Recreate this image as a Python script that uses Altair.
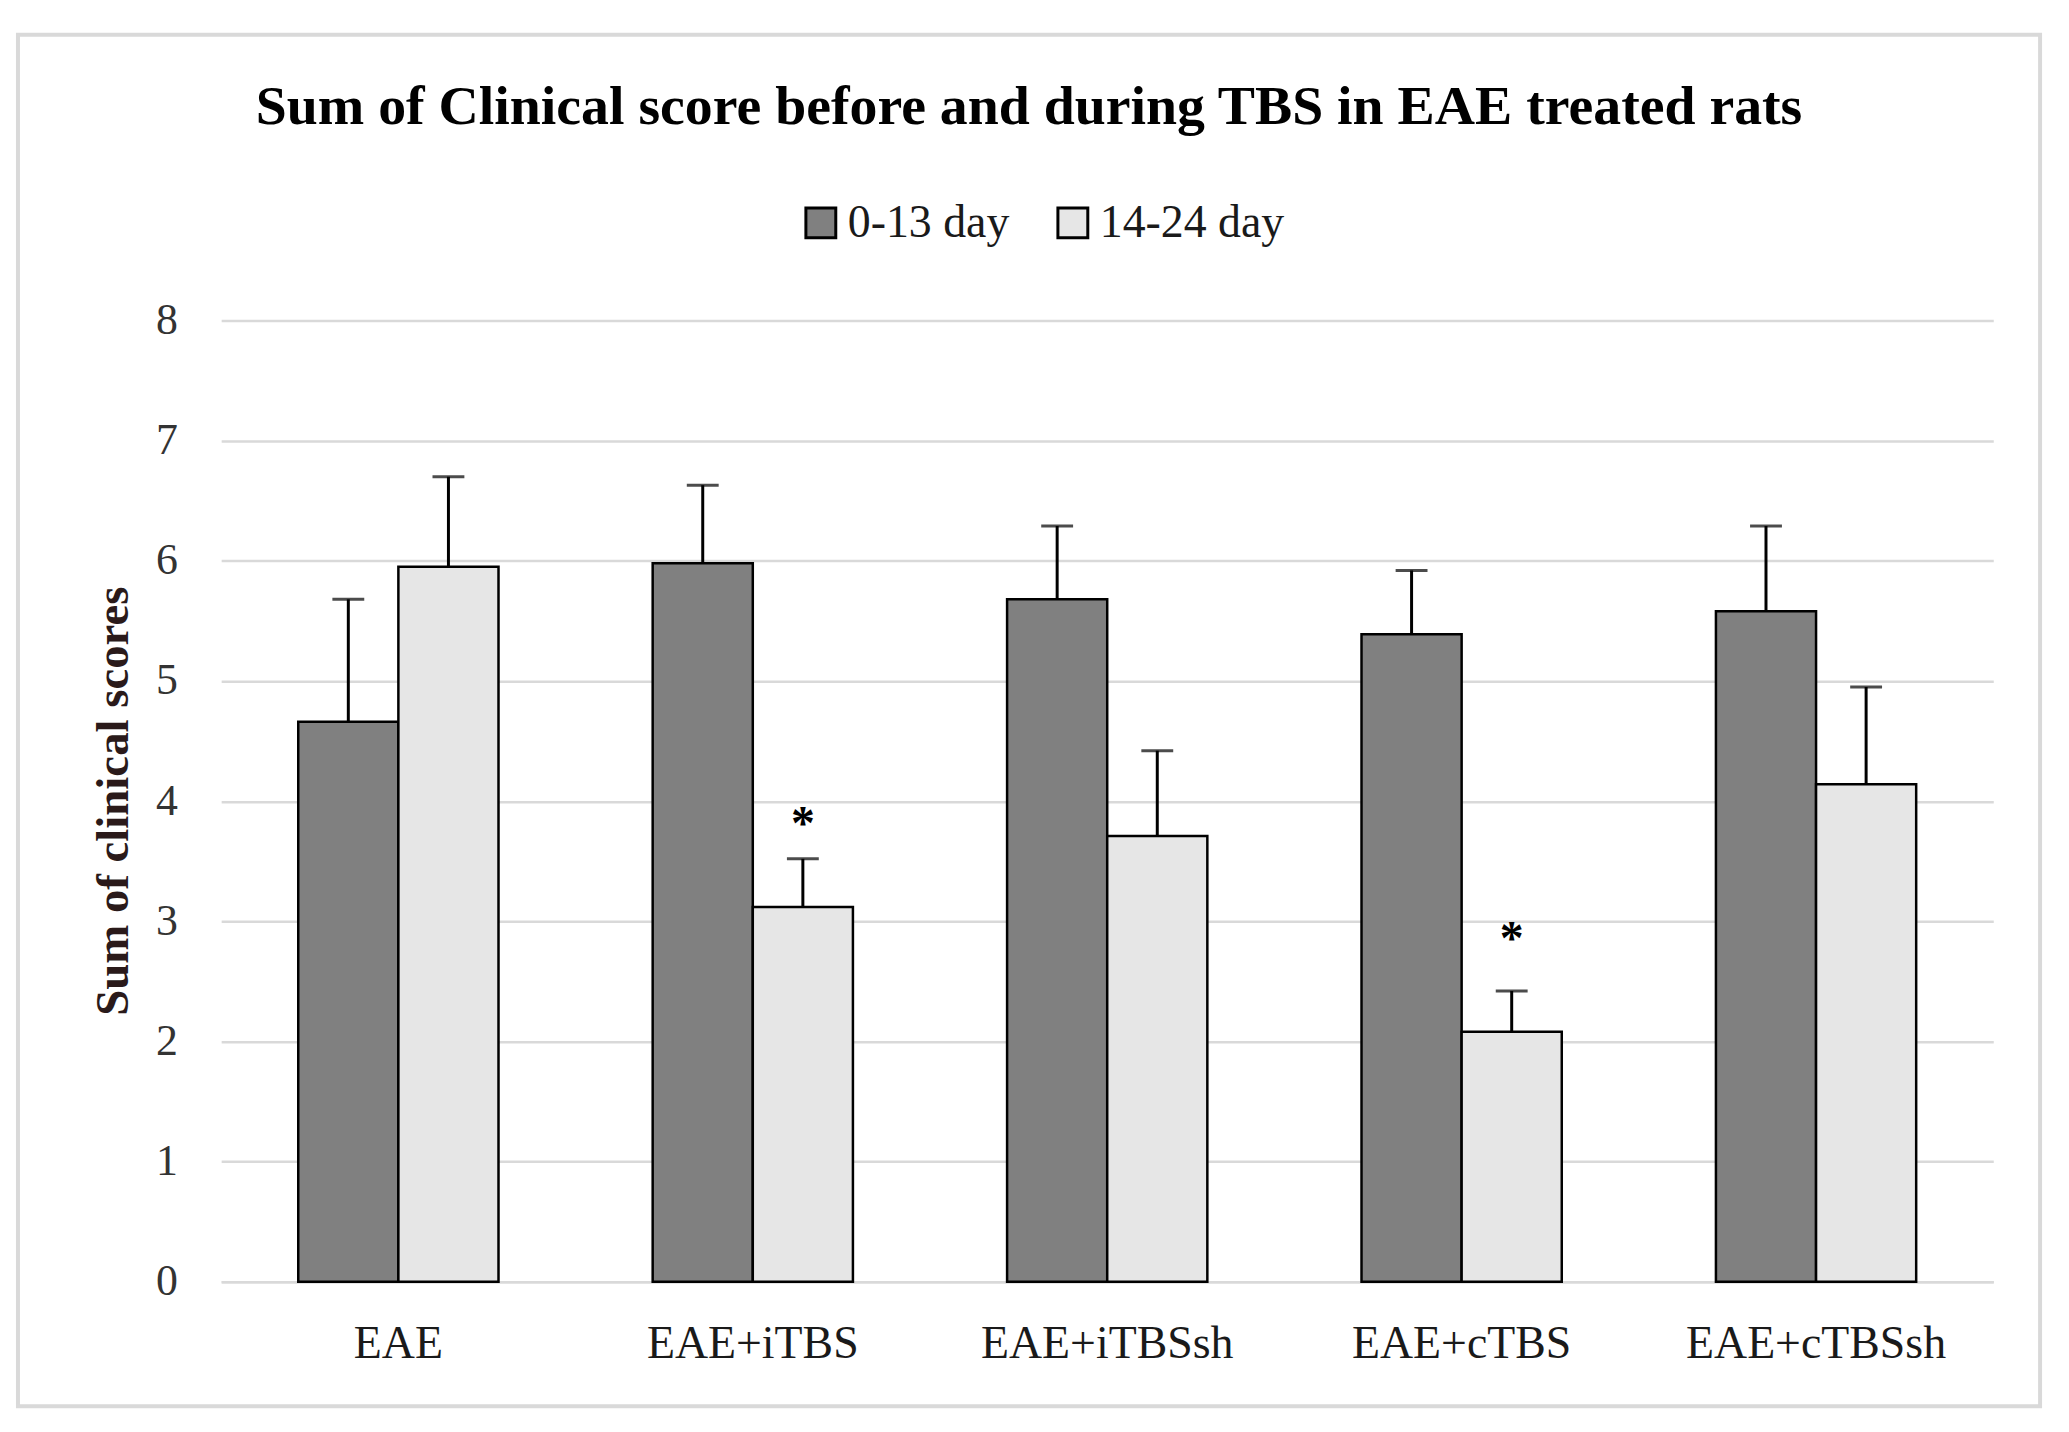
import altair as alt
import pandas as pd

groups = ["EAE", "EAE+iTBS", "EAE+iTBSsh", "EAE+cTBS", "EAE+cTBSsh"]
periods = ["0-13 day", "14-24 day"]
early_mean = [4.66, 5.98, 5.68, 5.39, 5.58]
early_upper = [5.68, 6.63, 6.29, 5.92, 6.29]
late_mean = [5.95, 3.12, 3.71, 2.08, 4.14]
late_upper = [6.70, 3.52, 4.42, 2.42, 4.95]
star_groups = ["EAE+iTBS", "EAE+cTBS"]
star_y = [3.80, 2.84]
y_ticks = [0, 1, 2, 3, 4, 5, 6, 7, 8]
colors = ["#808080", "#e6e6e6"]

rows = []
for g, m, u in zip(groups, early_mean, early_upper):
    rows.append({"group": g, "period": periods[0], "mean": m, "upper": u})
for g, m, u in zip(groups, late_mean, late_upper):
    rows.append({"group": g, "period": periods[1], "mean": m, "upper": u})
df = pd.DataFrame(rows)
stars = pd.DataFrame({"group": star_groups, "period": [periods[1]] * len(star_groups), "star": star_y, "label": ["*"] * len(star_groups)})

FONT = "Liberation Serif"
W, H = 1779, 965

x_enc = alt.X("group:N", sort=groups,
              scale=alt.Scale(paddingInner=0.435, paddingOuter=0.2175),
              axis=alt.Axis(title="", labelAngle=0, ticks=False, domain=True,
                            domainColor="#d9d9d9", domainWidth=2.5,
                            labelFont=FONT, labelFontSize=46, labelColor="#1a1a1a",
                            labelPadding=40, labelLimit=0))
xo_enc = alt.XOffset("period:N", sort=periods, scale=alt.Scale(padding=0))
y_scale = alt.Scale(domain=[0, 8])

frame = alt.Chart(pd.DataFrame({"a": [0]})).mark_rect(
    filled=False, stroke="#d9d9d9", strokeWidth=4
).encode(x=alt.value(-204), x2=alt.value(1826), y=alt.value(-287), y2=alt.value(1090))

bars = alt.Chart(df).mark_bar(stroke="black", strokeWidth=2.5).encode(
    x=x_enc,
    xOffset=xo_enc,
    y=alt.Y("mean:Q", scale=y_scale,
            axis=alt.Axis(values=y_ticks, format="d", grid=True, gridColor="#d9d9d9", gridWidth=2.5,
                          domain=False, ticks=False, labelFont=FONT, labelFontSize=44,
                          labelColor="#333333", labelPadding=44,
                          title="Sum of clinical scores", titleFont=FONT, titleFontSize=47,
                          titleFontWeight="bold", titleColor="#2a1a1a", titleAngle=270,
                          titleX=-108, titleY=482, titleAlign="center", titleBaseline="middle")),
    color=alt.Color("period:N", sort=periods,
                    scale=alt.Scale(domain=periods, range=colors),
                    legend=alt.Legend(title="", orient="none", legendX=579, legendY=-121,
                                      direction="horizontal", symbolType="square",
                                      symbolSize=900, symbolStrokeColor="black",
                                      symbolStrokeWidth=3, labelFont=FONT, labelFontSize=46,
                                      labelColor="#1a1a1a", labelOffset=4, columnPadding=40,
                                      labelLimit=0)),
)

err = alt.Chart(df).mark_rule(color="black", strokeWidth=3).encode(
    x=x_enc, xOffset=xo_enc, y=alt.Y("mean:Q", scale=y_scale), y2="upper:Q"
)
caps = alt.Chart(df).mark_tick(color="black", thickness=3, size=32).encode(
    x=x_enc, xOffset=xo_enc, y=alt.Y("upper:Q", scale=y_scale)
)
star_text = alt.Chart(stars).mark_text(font=FONT, fontSize=48, fontWeight="bold",
                                       baseline="middle", color="black").encode(
    x=x_enc, xOffset=xo_enc, y=alt.Y("star:Q", scale=y_scale), text="label:N"
)

chart = alt.layer(frame, bars, err, caps, star_text).properties(
    width=W, height=H,
    title=alt.TitleParams(text="Sum of Clinical score before and during TBS in EAE treated rats",
                          font=FONT, fontSize=56, fontWeight="bold", color="black",
                          anchor="middle", frame="bounds", offset=-104),
    autosize=alt.AutoSizeParams(type="none"),
    padding={"left": 214, "top": 311, "right": 68, "bottom": 140},
).configure_view(strokeWidth=0)

chart.save("out.html", embed_options={"renderer": "svg", "actions": False})
